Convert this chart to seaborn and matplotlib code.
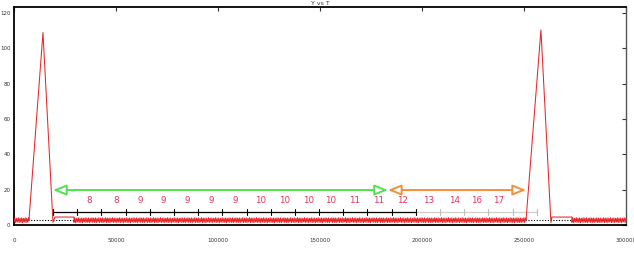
import numpy as np
import pandas as pd
import matplotlib
matplotlib.use("Agg")
import matplotlib.pyplot as plt
import seaborn as sns

# ---- data ----
noise_pattern = [1.5, 4.0, 1.3, 3.8, 1.7, 4.1, 1.4, 3.9]
noise_step = 420
noise_ranges = [(0, 7350), (29400, 251000), (273500, 300000)]

peak1_T = [7350, 14200, 19100, 20100, 29400]
peak1_Y = [3.0, 109.0, 1.5, 4.5, 4.5]
peak2_T = [251000, 258300, 263200, 263700, 273500]
peak2_Y = [3.0, 110.5, 1.5, 4.5, 4.5]

baseline_Y = 3.0

ruler_Y = 7.4
ruler_ticks = [19100, 30960, 42820, 54680, 66540, 78400, 90260, 102120, 113980,
               125840, 137700, 149560, 161420, 173280, 185140, 197000,
               208860, 220720, 232580, 244440, 256300]
ruler_black_count = 16

label_T = [36765, 50000, 61765, 73040, 84805, 96570, 108335, 121080, 132845,
           144610, 155395, 167160, 178925, 190690, 203435, 216180, 226960, 237750]
label_text = ['8', '8', '9', '9', '9', '9', '9', '10', '10', '10', '10',
              '11', '11', '12', '13', '14', '16', '17']
label_Y = 13.6

arrow_Y = 19.8
green_arrow = (19100, 183300)
orange_arrow = (183300, 251000)

x_ticks = [0, 50000, 100000, 150000, 200000, 250000, 300000]
y_ticks = [0, 20, 40, 60, 80, 100, 120]

# ---- build signal ----
def noise(a, b):
    t = np.arange(a, b, noise_step)
    v = np.resize(np.array(noise_pattern), len(t))
    return list(t), list(v)

T, Y = [], []
n0 = noise(*noise_ranges[0]); T += n0[0]; Y += n0[1]
T += peak1_T; Y += peak1_Y
n1 = noise(*noise_ranges[1]); T += n1[0]; Y += n1[1]
T += peak2_T; Y += peak2_Y
n2 = noise(*noise_ranges[2]); T += n2[0]; Y += n2[1]
df = pd.DataFrame({"T": T, "Y": Y})

sns.set_style("white")
fig = plt.figure(figsize=(6.34, 2.56), dpi=100)
ax = fig.add_axes([14/634, 1-225/256, 612/634, 218/256])

ax.axhline(baseline_Y, color="black", ls=(0, (1, 1.5)), lw=0.8, zorder=1)

sns.lineplot(data=df, x="T", y="Y", ax=ax, sort=False, estimator=None,
             color="#e8262a", lw=0.75, zorder=3)

# ruler
ax.plot([ruler_ticks[0], ruler_ticks[ruler_black_count-1]], [ruler_Y, ruler_Y],
        color="black", lw=0.9, zorder=2)
ax.plot([ruler_ticks[ruler_black_count-1], ruler_ticks[-1]], [ruler_Y, ruler_Y],
        color="#cfcfcf", lw=0.9, zorder=2)
for i, t in enumerate(ruler_ticks):
    c = "black" if i < ruler_black_count else "#bdbdbd"
    ax.plot([t, t], [ruler_Y-1.7, ruler_Y+1.7], color=c, lw=0.8, zorder=2)

for t, s in zip(label_T, label_text):
    ax.text(t, label_Y, s, color="#e0365e", fontsize=6.3, ha="center", va="center")

def arrow(span, color):
    ax.annotate("", xy=(span[1], arrow_Y), xytext=(span[0], arrow_Y),
                arrowprops=dict(arrowstyle="<|-|>,head_length=0.8,head_width=0.32",
                                fc="white", ec=color, lw=1.4,
                                shrinkA=0, shrinkB=0), zorder=4)

arrow(green_arrow, "#52e052")
arrow(orange_arrow, "#f0903a")

ax.set_xlim(0, 300000)
ax.set_ylim(0, 123.5)
ax.set_xticks(x_ticks)
ax.set_xticklabels([str(v) for v in x_ticks])
ax.set_yticks(y_ticks)
ax.set_yticklabels([str(v) for v in y_ticks])
ax.set_xlabel("")
ax.set_ylabel("")
ax.tick_params(direction="in", length=3, width=0.8, top=True, right=True,
               labelsize=4, colors="#333333")
ax.tick_params(axis="x", pad=9)
ax.tick_params(axis="y", pad=2.5)
for s in ["top", "left", "bottom"]:
    ax.spines[s].set_color("black")
    ax.spines[s].set_linewidth(1.3)
ax.spines["right"].set_color("#555555")
ax.spines["right"].set_linewidth(1.0)
ax.set_title("Y vs T", fontsize=4.5, pad=1.5, color="#333333")

fig.savefig("out.png", dpi=100)
